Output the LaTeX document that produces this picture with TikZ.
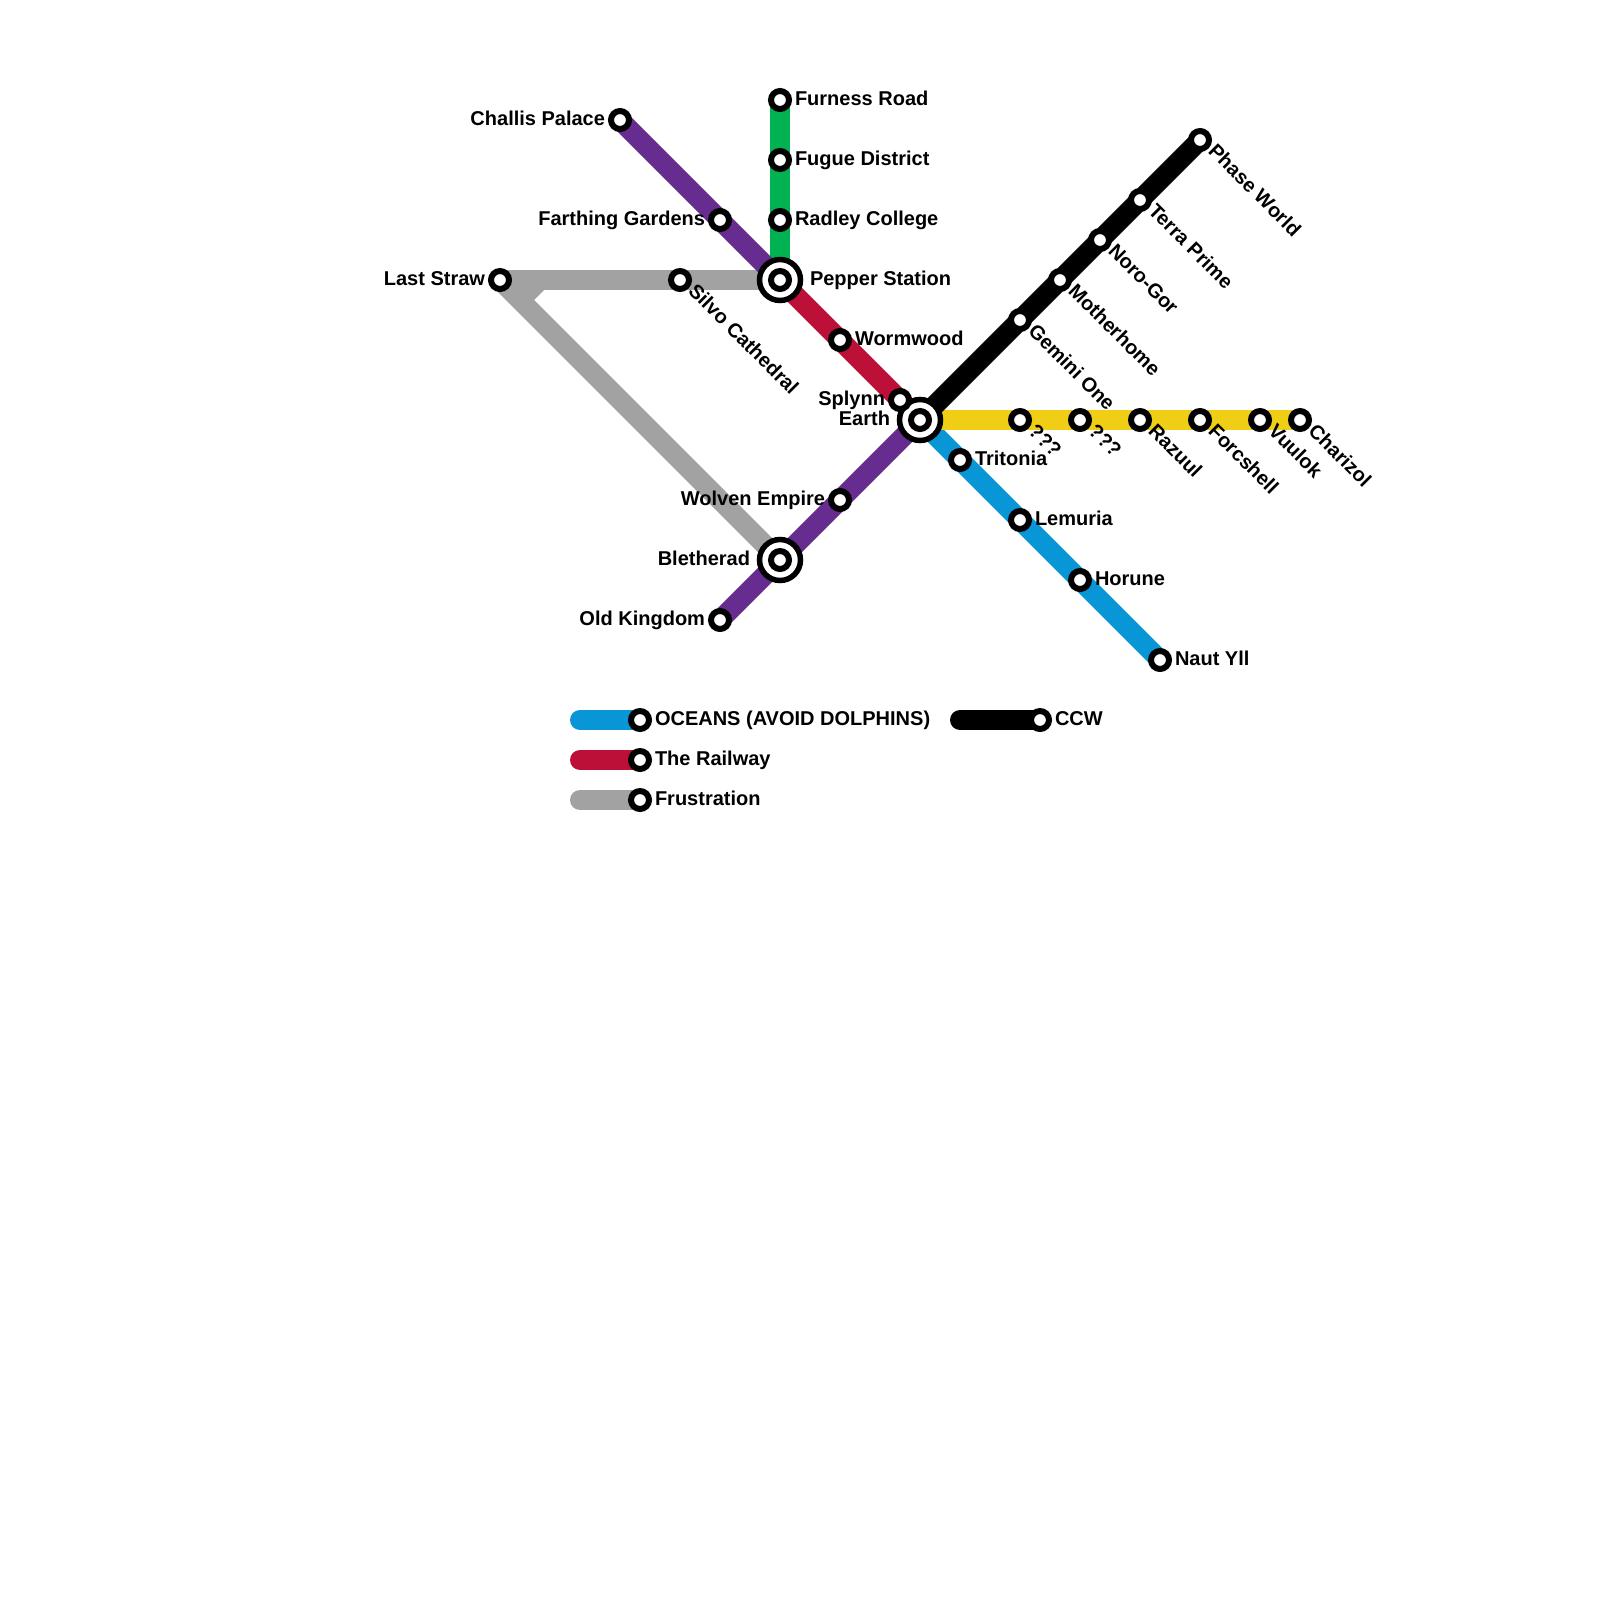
\documentclass[tikz,border=0pt]{standalone}
\usepackage{fontspec}
\setmainfont{Liberation Sans}
\usetikzlibrary{backgrounds}
\definecolor{mgreen}{HTML}{00B251}
\definecolor{mpurple}{HTML}{662C90}
\definecolor{mgray}{HTML}{A2A2A2}
\definecolor{mred}{HTML}{BD1038}
\definecolor{mblue}{HTML}{0896D7}
\definecolor{myellow}{HTML}{F0CE15}
\tikzset{every picture/.style={line width=0.75pt},
  stn/.style={circle,draw=black,fill=white,line width=4.5pt,inner sep=0pt,outer sep=0pt,minimum size=13.5pt},
  xchg/.style={circle,draw=black,fill=white,line width=4.125pt,inner sep=0pt,outer sep=0pt,minimum size=30.75pt},
  track/.style={line width=15pt,line cap=round},
  rlbl/.style={font=\bfseries\fontsize{15}{15}\selectfont,inner sep=0pt,anchor=base west},
  llbl/.style={font=\bfseries\fontsize{15}{15}\selectfont,inner sep=0pt,anchor=base east},
  dlbl/.style={font=\bfseries\fontsize{15}{15}\selectfont,inner sep=0pt,anchor=base west,rotate=-45}}

\begin{document}
\begin{tikzpicture}[x=0.75pt,y=0.75pt,yscale=-1,xscale=1]
\useasboundingbox (0,0) rectangle (1600,1600);
% interchanges
\node [xchg] (pepperx) at (780,280) {};
\node [stn] (pepper) at (780,280) {};
\node [xchg] (earthx) at (920,420) {};
\node [stn] (earth) at (920,420) {};
\node [xchg] (bletheradx) at (780,560) {};
\node [stn] (bletherad) at (780,560) {};
% green
\node [stn] (furness) at (780,100) {};
\node [stn] (fugue) at (780,160) {};
\node [stn] (radley) at (780,220) {};
% purple
\node [stn] (challis) at (620,120) {};
\node [stn] (farthing) at (720,220) {};
\node [stn] (wolven) at (840,500) {};
\node [stn] (oldkingdom) at (720,620) {};
% gray
\node [stn] (laststraw) at (500,280) {};
\node [stn] (silvo) at (680,280) {};
\coordinate (bendA) at (520,300);
\coordinate (bendB) at (540,280);
% red
\node [stn] (wormwood) at (840,340) {};
\node [stn] (splynn) at (900,400) {};
% black
\node [stn] (gemini) at (1020,320) {};
\node [stn] (motherhome) at (1060,280) {};
\node [stn] (norogor) at (1100,240) {};
\node [stn] (terra) at (1140,200) {};
\node [stn] (phase) at (1200,140) {};
% yellow
\node [stn] (unknownA) at (1020,420) {};
\node [stn] (unknownB) at (1080,420) {};
\node [stn] (razuul) at (1140,420) {};
\node [stn] (forcshell) at (1200,420) {};
\node [stn] (vuulok) at (1260,420) {};
\node [stn] (charizol) at (1300,420) {};
% blue
\node [stn] (tritonia) at (960,460) {};
\node [stn] (lemuria) at (1020,520) {};
\node [stn] (horune) at (1080,580) {};
\node [stn] (nautyll) at (1160,660) {};
% legend
\node [stn] (keyblue) at (640,720) {};
\node [stn] (keyred) at (640,760) {};
\node [stn] (keygray) at (640,800) {};
\node [stn] (keyblack) at (1040,720) {};
\coordinate (startblue) at (580,720);
\coordinate (startred) at (580,760);
\coordinate (startgray) at (580,800);
\coordinate (startblack) at (960,720);
\begin{scope}[on background layer]
\draw [track,mgray] (laststraw.center) -- (pepper.center);
\draw [track,mgray] (laststraw.center) -- (bletherad.center);
\draw [track,mgray,line cap=butt] (bendA) -- (bendB);
\draw [track,mgreen] (furness.center) -- (pepper.center);
\draw [track,mpurple] (challis.center) -- (pepper.center);
\draw [track,mpurple] (oldkingdom.center) -- (earth.center);
\draw [track,mred] (pepper.center) -- (earth.center);
\draw [track,mblue] (earth.center) -- (nautyll.center);
\draw [track,myellow] (earth.center) -- (charizol.center);
\draw [track,black] (earth.center) -- (phase.center);
\draw [track,mblue] (startblue) -- (keyblue.center);
\draw [track,mred] (startred) -- (keyred.center);
\draw [track,mgray] (startgray) -- (keygray.center);
\draw [track,black] (startblack) -- (keyblack.center);
\end{scope}
\node [rlbl] (furnessl) at (794.5,105) {Furness Road};
\node [rlbl] (fuguel) at (794.5,165) {Fugue District};
\node [rlbl] (radleyl) at (794.5,225) {Radley College};
\node [rlbl] (pepperl) at (809.5,285) {Pepper Station};
\node [rlbl] (wormwoodl) at (854.5,345) {Wormwood};
\node [rlbl] (tritonial) at (974.5,465) {Tritonia};
\node [rlbl] (lemurial) at (1034.5,525) {Lemuria};
\node [rlbl] (horunel) at (1094.5,585) {Horune};
\node [rlbl] (nautylll) at (1174.5,665) {Naut Yll};
\node [llbl] (challisl) at (605.5,125) {Challis Palace};
\node [llbl] (farthingl) at (705.5,225) {Farthing Gardens};
\node [llbl] (laststrawl) at (485.5,285) {Last Straw};
\node [llbl] (splynnl) at (885.5,405) {Splynn};
\node [llbl] (earthl) at (890.5,425) {Earth};
\node [llbl] (wolvenl) at (825.5,505) {Wolven Empire};
\node [llbl] (bletheradl) at (750.5,565) {Bletherad};
\node [llbl] (oldkingdoml) at (705.5,625) {Old Kingdom};
\node [dlbl] (silvol) at (687,292) {Silvo Cathedral};
\node [dlbl] (geminil) at (1027,332) {Gemini One};
\node [dlbl] (motherhomel) at (1067,292) {Motherhome};
\node [dlbl] (norogorl) at (1107,252) {Noro-Gor};
\node [dlbl] (terral) at (1147,212) {Terra Prime};
\node [dlbl] (phasel) at (1207,152) {Phase World};
\node [dlbl] (unknownAl) at (1027,432) {???};
\node [dlbl] (unknownBl) at (1087,432) {???};
\node [dlbl] (razuull) at (1147,432) {Razuul};
\node [dlbl] (forcshelll) at (1207,432) {Forcshell};
\node [dlbl] (vuulokl) at (1267,432) {Vuulok};
\node [dlbl] (charizoll) at (1307,432) {Charizol};
\node [rlbl] (keybluel) at (654.5,725) {OCEANS (AVOID DOLPHINS)};
\node [rlbl] (keyredl) at (654.5,765) {The Railway};
\node [rlbl] (keygrayl) at (654.5,805) {Frustration};
\node [rlbl] (keyblackl) at (1054.5,725) {CCW};
\end{tikzpicture}
\end{document}
